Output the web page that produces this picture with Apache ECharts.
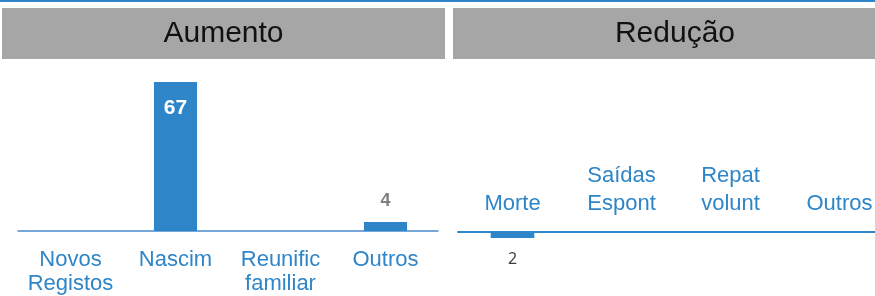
<!DOCTYPE html>
<html>
<head>
<meta charset="utf-8">
<script src="https://cdn.jsdelivr.net/npm/echarts@6/dist/echarts.min.js"></script>
<style>
  html, body { margin: 0; padding: 0; background: #fff; }
  #chart { width: 875px; height: 296px; }
</style>
</head>
<body>
<div id="chart"></div>
<script>
// dados
const increaseTitle = 'Aumento';
const decreaseTitle = 'Redução';
const increaseCats = ['Novos\nRegistos', 'Nascim', 'Reunific\nfamiliar', 'Outros'];
const increaseVals = [0, 67, 0, 4];
const decreaseCats = ['Morte', 'Saídas\nEspont', 'Repat\nvolunt', 'Outros'];
const decreaseVals = [2, 0, 0, 0];

const blue = '#2E86C8';
const font = 'Liberation Sans';

var myChart = echarts.init(document.getElementById('chart'));

// rótulo só para valores diferentes de zero
function labelFmt(p) {
    return p.value ? String(p.value) : '';
}

// o valor maior fica dentro da barra, os pequenos por cima
const increaseData = increaseVals.map(v => {
    if (v > 20) {
        return { value: v, label: { position: 'insideTop', distance: 16, color: '#fff', fontSize: 21 } };
    }
    return v;
});

function header(x, w, text) {
    return {
        type: 'group',
        children: [
            { type: 'rect', shape: { x: x, y: 8, width: w, height: 51 }, style: { fill: '#A6A6A6' } },
            {
                type: 'text', x: x + w / 2, y: 34,
                style: { text: text, font: '30px "Liberation Sans"', fill: '#111', align: 'center', verticalAlign: 'middle' }
            }
        ]
    };
}

var option = {
    animation: false,
    graphic: [
        { type: 'rect', shape: { x: 0, y: 0, width: 875, height: 2 }, style: { fill: blue } },
        header(2, 443, increaseTitle),
        header(453, 444, decreaseTitle)
    ],
    grid: [
        { left: 18, right: 437, top: 82, height: 150 },
        { left: 458, width: 436, top: 232, height: 60, outerBoundsMode: 'none' }
    ],
    xAxis: [
        {
            gridIndex: 0, type: 'category', data: increaseCats,
            axisLine: { lineStyle: { color: '#4A8BCB', width: 1.5 } },
            axisTick: { show: false },
            axisLabel: { color: blue, fontSize: 22, fontFamily: font, lineHeight: 24, margin: 17, interval: 0 }
        },
        {
            gridIndex: 1, type: 'category', data: decreaseCats, position: 'top',
            axisLine: { lineStyle: { color: blue, width: 2 } },
            axisTick: { show: false },
            axisLabel: { color: blue, fontSize: 22, fontFamily: font, lineHeight: 28, margin: 14, interval: 0 }
        }
    ],
    yAxis: [
        { gridIndex: 0, type: 'value', min: 0, max: 67, show: false },
        { gridIndex: 1, type: 'value', min: 0, max: 20, inverse: true, show: false }
    ],
    series: [
        {
            type: 'bar', xAxisIndex: 0, yAxisIndex: 0,
            data: increaseData, barWidth: '41%',
            itemStyle: { color: blue },
            label: {
                show: true, position: 'top', distance: 12, formatter: labelFmt,
                color: '#7F7F7F', fontWeight: 'bold', fontSize: 18, fontFamily: font
            }
        },
        {
            type: 'bar', xAxisIndex: 1, yAxisIndex: 1,
            data: decreaseVals, barWidth: '40%',
            itemStyle: { color: blue },
            label: {
                show: true, position: 'bottom', distance: 13, formatter: labelFmt,
                color: '#404040', fontSize: 16, fontFamily: 'Noto Sans'
            }
        }
    ]
};

myChart.setOption(option);
</script>
</body>
</html>
